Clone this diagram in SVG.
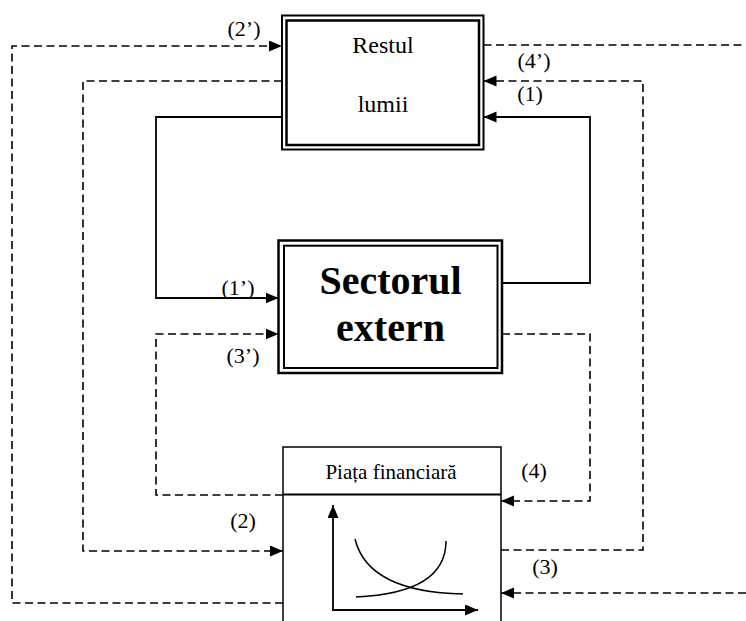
<svg xmlns="http://www.w3.org/2000/svg" width="746" height="621" viewBox="0 0 746 621">
<style>
  .t { font-family: "Liberation Serif", "Times New Roman", serif; fill: #000; }
  .lbl { font-size: 22px; text-anchor: middle; }
  .solid { fill: none; stroke: #000; stroke-width: 1.8; }
  .dash { fill: none; stroke: #000; stroke-width: 1.6; stroke-dasharray: 8 4.5; }
  .box { fill: #fff; stroke: #000; }
</style>
<defs>
  <marker id="arr" markerUnits="userSpaceOnUse" markerWidth="14" markerHeight="12" refX="13" refY="5.5" orient="auto">
    <path d="M0,0 L13,5.5 L0,11 z" fill="#000"/>
  </marker>
</defs>
<rect width="746" height="621" fill="#fff"/>

<g id="connectors">
  <path class="solid" d="M282,117 H156 V298 H278.5" marker-end="url(#arr)"/>
  <path class="solid" d="M502,283 H590 V117 H483.5" marker-end="url(#arr)"/>
  <path class="dash" d="M283,603 H12 V46 H282" marker-end="url(#arr)"/>
  <path class="dash" d="M282,81 H83 V551 H283" marker-end="url(#arr)"/>
  <path class="dash" d="M283,495 H156 V334 H278.5" marker-end="url(#arr)"/>
  <path class="dash" d="M502,334 H590 V501 H501" marker-end="url(#arr)"/>
  <path class="dash" d="M483.5,45 H746"/>
  <path class="dash" d="M746,593 H501" marker-end="url(#arr)"/>
  <path class="dash" d="M501,550 H643 V81 H483.5" marker-end="url(#arr)"/>
</g>

<g id="labels">
  <text class="t lbl" x="244" y="36">(2’)</text>
  <text class="t lbl" x="534" y="68">(4’)</text>
  <text class="t lbl" x="530" y="101">(1)</text>
  <text class="t lbl" x="238" y="295">(1’)</text>
  <text class="t lbl" x="243" y="363">(3’)</text>
  <text class="t lbl" x="243" y="528">(2)</text>
  <text class="t lbl" x="534" y="478">(4)</text>
  <text class="t lbl" x="545" y="574">(3)</text>
</g>

<g id="restul-lumii">
  <rect class="box" x="282" y="15.5" width="201.5" height="134" stroke-width="2"/>
  <rect fill="none" stroke="#000" x="286.5" y="20.5" width="192.5" height="124.5" stroke-width="2.5"/>
  <text class="t" x="383" y="53" font-size="24" text-anchor="middle">Restul</text>
  <text class="t" x="383" y="112" font-size="24" text-anchor="middle">lumii</text>
</g>

<g id="sectorul-extern">
  <rect class="box" x="278.5" y="240.5" width="223.5" height="132.5" stroke-width="2.5"/>
  <rect fill="none" stroke="#000" x="284" y="245.7" width="213.5" height="122.3" stroke-width="2"/>
  <text class="t" x="390.5" y="294" font-size="40" font-weight="bold" text-anchor="middle">Sectorul</text>
  <text class="t" x="390.5" y="341" font-size="40" font-weight="bold" text-anchor="middle">extern</text>
</g>

<g id="piata-financiara">
  <rect class="box" x="283" y="447" width="218" height="190" stroke-width="1.5"/>
  <line x1="283" y1="494.5" x2="501" y2="494.5" stroke="#000" stroke-width="1.8"/>
  <text class="t" x="391" y="479" font-size="21" text-anchor="middle">Piața financiară</text>
  <line x1="333" y1="610" x2="333" y2="505" stroke="#000" stroke-width="1.8" marker-end="url(#arr)"/>
  <line x1="332" y1="610" x2="478" y2="610" stroke="#000" stroke-width="1.8" marker-end="url(#arr)"/>
  <path d="M355,539 Q368,592 463,594" fill="none" stroke="#000" stroke-width="1.5"/>
  <path d="M356,597 Q446,593 446,541" fill="none" stroke="#000" stroke-width="1.5"/>
</g>
</svg>
